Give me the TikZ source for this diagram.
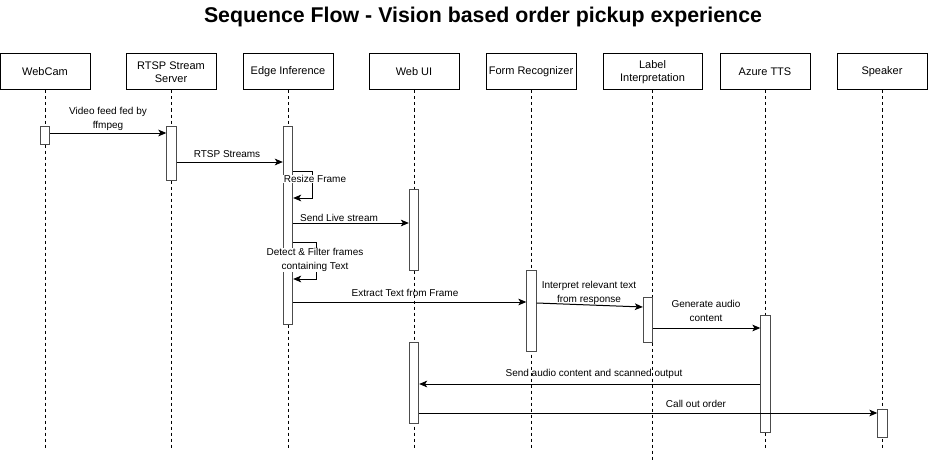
\documentclass[tikz,border=0pt]{standalone}
\usepackage{fontspec}
\setmainfont{Liberation Sans}
\usetikzlibrary{arrows.meta}

\begin{document}
\begin{tikzpicture}[
  x=0.75pt,y=-0.75pt,
  font=\fontsize{8.25}{10}\selectfont,
  head/.style={draw,line width=0.75pt,minimum width=67.5pt,minimum height=27pt,align=center,inner sep=1pt},
  life/.style={dash pattern=on 2.25pt off 2.25pt,line width=0.75pt},
  act/.style={draw=black!70,fill=white,line width=0.75pt,minimum width=7pt,minimum height=(#1)*0.75pt,inner sep=0pt},
  msg/.style={-{Stealth[length=6pt,width=5pt,inset=1.5pt]},line width=0.75pt},
  lbl/.style={align=center,inner sep=0.5pt,font=\fontsize{7.5}{10.5}\selectfont}]
\useasboundingbox (0,0) rectangle (928,460);
\fill[white] (0,0) rectangle (928,460);
% title
\node[font=\fontsize{16}{19}\selectfont\bfseries] (title) at (483,17) {Sequence Flow - Vision based order pickup experience};
% participants
\node[head] (cam)   at (45,72)    {WebCam};
\node[head] (rtsp)  at (171,72)   {RTSP Stream\\Server};
\node[head] (edge)  at (288,72)   {Edge Inference};
\node[head] (webui) at (414,72)   {Web UI};
\node[head] (form)  at (531,72)   {Form Recognizer};
\node[head,minimum width=74.25pt] (label) at (652.5,72) {Label\\Interpretation};
\node[head] (tts)   at (765,72)   {Azure TTS};
\node[head] (spk)   at (882,72)   {Speaker};
% lifelines
\foreach \n/\e in {cam/449,rtsp/449,edge/449,webui/449,form/449,label/460,tts/449,spk/449}
  \draw[life] (\n.south) -- (\n.south |- 0,\e);
% activations
\foreach \n/\x/\ya/\yb in {a1/45/126/144,a2/171.5/126/180,a3/288/126/324,a4/414/189/270,a5/531.5/270/351,a6/648/297/342,a7/765.5/315/432,a8/414/342/423,a9/882.5/409/437}
  \node[act=\yb-\ya] (\n) at (\x,{(\ya+\yb)/2}) {};
% messages
\draw[msg] (a1.east |- 0,133) -- (a2.west |- 0,133);
\node[lbl] (m1) at (108,119) {Video feed fed by\\ffmpeg};
\draw[msg] (a2.east |- 0,162) -- (a3.west |- 0,162);
\node[lbl] (m2) at (227,154) {RTSP Streams};
\draw[msg] (a3.east |- 0,171) -- ++(19,0) |- (a3.east |- 0,198);
\node[lbl,fill=white] (m3) at (315,179) {Resize Frame};
\draw[msg] (a3.east |- 0,223) -- (a4.west |- 0,223);
\node[lbl] (m4) at (339,218) {Send Live stream};
\draw[msg] (a3.east |- 0,242) -- ++(23,0) |- (a3.east |- 0,279);
\node[lbl,fill=white] (m5) at (315,260) {Detect \& Filter frames\\containing Text};
\draw[msg] (a3.east |- 0,302) -- (a5.west |- 0,302);
\node[lbl] (m6) at (405,293) {Extract Text from Frame};
\draw[msg] (a5.east |- 0,303) -- (a6.west |- 0,307);
\node[lbl] (m7) at (589,293) {Interpret relevant text\\from response};
\draw[msg] (a6.east |- 0,328) -- (a7.west |- 0,328);
\node[lbl] (m8) at (706,311) {Generate audio\\content};
\draw[msg] (a7.west |- 0,384) -- (a8.east |- 0,384);
\node[lbl] (m9) at (594,374) {Send audio content and scanned output};
\draw[msg] (a8.east |- 0,413) -- (a9.west |- 0,413);
\node[lbl] (m10) at (696,404) {Call out order};
\end{tikzpicture}
\end{document}
